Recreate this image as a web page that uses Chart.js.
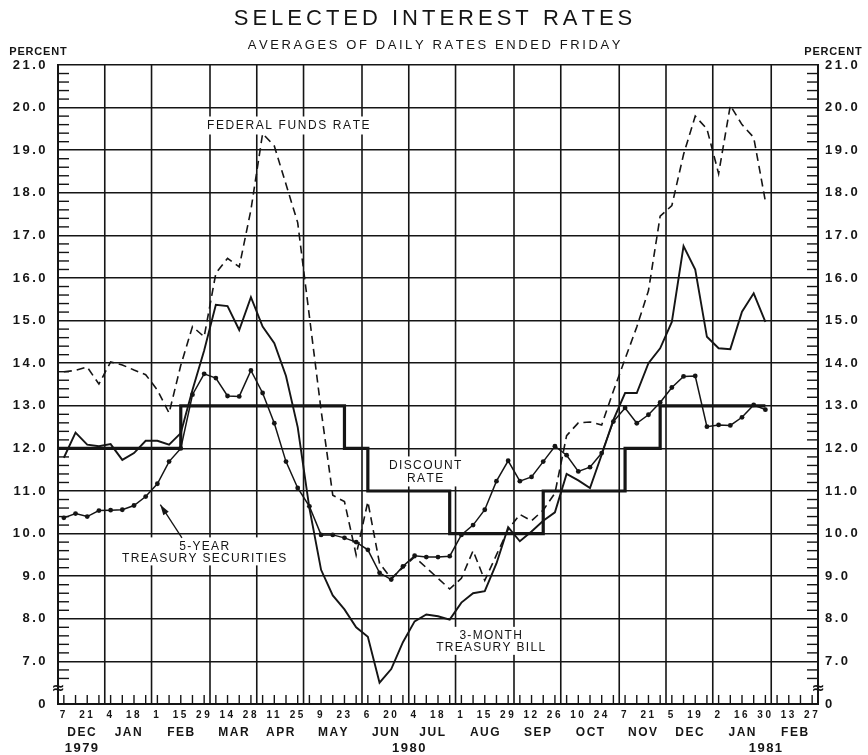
<!DOCTYPE html>
<html>
<head>
<meta charset="utf-8">
<script src="https://cdn.jsdelivr.net/npm/chart.js@4.4.0/dist/chart.umd.min.js"></script>
<style>
  html, body { margin: 0; padding: 0; background: #fff; }
</style>
</head>
<body>
<canvas id="rates" width="868" height="755"></canvas>
<script>
// week index 0 = Friday Dec 7, 1979 ... 64 = Friday Feb 27, 1981
const weekDays = [7,14,21,28, 4,11,18,25, 1,8,15,22,29, 7,14,21,28, 4,11,18,25, 2,9,16,23,30,
  6,13,20,27, 4,11,18,25, 1,8,15,22,29, 5,12,19,26, 3,10,17,24,31, 7,14,21,28, 5,12,19,26,
  2,9,16,23,30, 6,13,20,27];
const months = ['DEC','JAN','FEB','MAR','APR','MAY','JUN','JUL','AUG','SEP','OCT','NOV','DEC','JAN','FEB'];
const monthWeeks = [4,4,5,4,4,5,4,4,5,4,5,4,4,5,4];
const years = ['1979','1980','1981'];
const yearWeeks = [1.5, 29.5, 60];
const yTicks = [6,7,8,9,10,11,12,13,14,15,16,17,18,19,20,21];

// weekly averages, Dec 7 1979 .. Jan 30 1981
const fedFunds = [13.80,13.83,13.91,13.51,14.03,13.96,13.84,13.73,13.37,12.83,
  13.95,14.86,14.62,16.11,16.46,16.26,17.60,19.39,19.10,18.20,
  17.30,15.10,12.90,10.90,10.75,9.50,10.75,9.30,8.95,9.20,
  9.45,9.20,8.95,8.70,8.95,9.60,8.90,9.50,10.10,10.45,
  10.30,10.55,10.95,12.30,12.60,12.62,12.55,13.35,14.10,14.85,
  15.70,17.45,17.70,18.90,19.80,19.50,18.45,20.05,19.60,19.30,17.80];
const billRate3m = [11.78,12.37,12.09,12.05,12.10,11.73,11.89,12.18,12.18,12.09,
  12.36,13.37,14.30,15.37,15.34,14.78,15.55,14.86,14.47,13.70,
  12.50,10.60,9.15,8.55,8.22,7.80,7.58,6.50,6.82,7.45,
  7.94,8.10,8.06,7.98,8.38,8.60,8.65,9.30,10.15,9.82,
  10.05,10.30,10.50,11.40,11.25,11.07,11.85,12.67,13.30,13.30,
  14.00,14.35,14.97,16.75,16.20,14.62,14.35,14.33,15.21,15.64,14.97];
const treasury5y = [10.37,10.47,10.40,10.54,10.55,10.56,10.66,10.87,11.17,11.69,
  12.00,13.26,13.75,13.65,13.23,13.22,13.83,13.30,12.59,11.69,
  11.07,10.64,9.97,9.97,9.90,9.80,9.62,9.08,8.92,9.23,
  9.48,9.45,9.45,9.47,9.97,10.20,10.56,11.23,11.71,11.23,
  11.33,11.69,12.05,11.84,11.46,11.56,11.89,12.63,12.95,12.59,
  12.79,13.08,13.43,13.69,13.70,12.51,12.55,12.54,12.73,13.02,12.91];
const discountRate = [12,12,12,12,12,12,12,12,12,12,
  12,13,13,13,13,13,13,13,13,13,
  13,13,13,13,13,12,12,11,11,11,
  11,11,11,11,10,10,10,10,10,10,
  10,10,11,11,11,11,11,11,11,12,
  12,12,13,13,13,13,13,13,13,13,13];

const ink = '#151515';
const toPoints = arr => arr.map((v, i) => ({ x: i, y: v }));

function spaced(c, text, cx, cy, gap) {
  const chars = text.split('');
  const widths = chars.map(ch => c.measureText(ch).width);
  const total = widths.reduce((s, w) => s + w, 0) + gap * (chars.length - 1);
  let px = cx - total / 2;
  chars.forEach((ch, i) => { c.fillText(ch, px, cy); px += widths[i] + gap; });
  return total;
}

function note(c, lines, x, y, wk, val, font, gap, lineH) {
  c.font = font;
  const cx = x.getPixelForValue(wk), cy = y.getPixelForValue(val);
  let maxW = 0;
  lines.forEach(t => {
    const w = t.split('').reduce((s, ch) => s + c.measureText(ch).width, 0) + gap * (t.length - 1);
    maxW = Math.max(maxW, w);
  });
  c.fillStyle = '#fff';
  c.fillRect(cx - maxW / 2 - 4, cy - 9, maxW + 8, lineH * lines.length + 4);
  c.fillStyle = ink;
  lines.forEach((t, i) => spaced(c, t, cx, cy + i * lineH, gap));
}

const paper = {
  id: 'paper',
  beforeDraw(chart) {
    const c = chart.ctx;
    c.save();
    c.fillStyle = '#fff';
    c.fillRect(0, 0, chart.width, chart.height);
    c.restore();
    c.letterSpacing = '2.5px';
  },
  beforeDatasetsDraw(chart) {
    const { ctx: c, chartArea: a, scales: { x, y } } = chart;
    c.save();
    c.letterSpacing = '0px';
    c.strokeStyle = ink;
    c.lineWidth = 1.6;
    const seg = (x1, y1, x2, y2) => { c.beginPath(); c.moveTo(x1, y1); c.lineTo(x2, y2); c.stroke(); };

    // month boundaries
    let edge = -0.5;
    monthWeeks.forEach((n, i) => {
      edge += n;
      if (i < monthWeeks.length - 1) {
        const px = x.getPixelForValue(edge);
        seg(px, a.top, px, a.bottom);
      }
    });
    // weekly ticks
    c.lineWidth = 1.4;
    weekDays.forEach((d, i) => {
      const px = x.getPixelForValue(i);
      seg(px, a.bottom, px, a.bottom - 9);
    });
    // minor percent ticks
    for (let k = 33; k <= 105; k++) {
      if (k % 5 === 0) continue;
      const py = y.getPixelForValue(k / 5);
      seg(a.left, py, a.left + 11, py);
      seg(a.right - 11, py, a.right, py);
    }

    // series labels
    c.textAlign = 'left';
    c.textBaseline = 'middle';
    note(c, ['FEDERAL FUNDS RATE'], x, y, 19.2, 19.58, '12px "Liberation Sans", Arial, sans-serif', 1.6, 14);
    note(c, ['DISCOUNT', 'RATE'], x, y, 30.9, 11.6, '12px "Liberation Sans", Arial, sans-serif', 1.4, 13);
    note(c, ['5-YEAR', 'TREASURY SECURITIES'], x, y, 12.0, 9.7, '12px "Liberation Sans", Arial, sans-serif', 1.3, 12);
    note(c, ['3-MONTH', 'TREASURY BILL'], x, y, 36.5, 7.6, '12px "Liberation Sans", Arial, sans-serif', 1.3, 12);

    // arrow to 5-year curve
    const ax1 = x.getPixelForValue(10.1), ay1 = y.getPixelForValue(9.9);
    const ax2 = x.getPixelForValue(8.25), ay2 = y.getPixelForValue(10.68);
    c.lineWidth = 1.3;
    seg(ax1, ay1, ax2, ay2);
    const ang = Math.atan2(ay2 - ay1, ax2 - ax1);
    c.fillStyle = ink;
    c.beginPath();
    c.moveTo(ax2, ay2);
    c.lineTo(ax2 - 11 * Math.cos(ang - 0.3), ay2 - 11 * Math.sin(ang - 0.3));
    c.lineTo(ax2 - 11 * Math.cos(ang + 0.3), ay2 - 11 * Math.sin(ang + 0.3));
    c.closePath();
    c.fill();
    c.restore();
  },
  afterDraw(chart) {
    const { ctx: c, chartArea: a, scales: { x, y } } = chart;
    c.save();
    c.letterSpacing = '0px';
    c.fillStyle = ink;
    c.textBaseline = 'middle';
    c.textAlign = 'left';

    c.font = '22px "Liberation Sans", Arial, sans-serif';
    spaced(c, 'SELECTED INTEREST RATES', 433, 19, 4.0);
    c.font = '13px "Liberation Sans", Arial, sans-serif';
    spaced(c, 'AVERAGES OF DAILY RATES ENDED FRIDAY', 434, 45, 2.6);

    c.font = 'bold 11px "Liberation Sans", Arial, sans-serif';
    spaced(c, 'PERCENT', 38, 52, 0.8);
    spaced(c, 'PERCENT', 833, 52, 0.8);

    // month and year captions
    c.font = 'bold 12px "Liberation Sans", Arial, sans-serif';
    let start = -0.5;
    months.forEach((m, i) => {
      const mid = start + monthWeeks[i] / 2;
      spaced(c, m, x.getPixelForValue(mid), a.bottom + 29, 1.5);
      start += monthWeeks[i];
    });
    c.font = 'bold 13px "Liberation Sans", Arial, sans-serif';
    years.forEach((t, i) => spaced(c, t, x.getPixelForValue(yearWeeks[i]), a.bottom + 44, 1.5));

    // scale break marks
    const by = y.getPixelForValue(6.35);
    c.font = 'bold 16px "DejaVu Sans", sans-serif';
    c.textAlign = 'center';
    c.fillText('\u2248', a.left, by);
    c.fillText('\u2248', a.right, by);
    c.restore();
  }
};

const tickFont = { family: '"Liberation Sans", Arial, sans-serif', size: 13, weight: 'bold' };

new Chart(document.getElementById('rates'), {
  type: 'line',
  data: {
    datasets: [
      { label: 'Federal funds rate', data: toPoints(fedFunds), borderColor: ink, borderWidth: 1.6,
        borderDash: [8, 5], pointRadius: 0, tension: 0 },
      { label: '3-month Treasury bill', data: toPoints(billRate3m), borderColor: ink, borderWidth: 1.9,
        pointRadius: 0, tension: 0 },
      { label: '5-year Treasury securities', data: toPoints(treasury5y), borderColor: ink, borderWidth: 1.5,
        pointRadius: 2.4, pointBackgroundColor: ink, pointBorderWidth: 0, tension: 0 },
      { label: 'Discount rate', data: [{ x: -0.5, y: discountRate[0] }].concat(toPoints(discountRate)),
        borderColor: ink, borderWidth: 3.2, stepped: 'after', pointRadius: 0 }
    ]
  },
  options: {
    responsive: false,
    animation: false,
    layout: { padding: { top: 65 } },
    plugins: { legend: { display: false }, tooltip: { enabled: false } },
    scales: {
      x: {
        type: 'linear', min: -0.5, max: 64.5,
        afterBuildTicks: s => { s.ticks = weekDays.map((d, i) => ({ value: i })); },
        afterFit: s => { s.height = 51; },
        ticks: {
          autoSkip: false, maxRotation: 0, padding: 5, color: ink,
          font: { family: '"Liberation Sans", Arial, sans-serif', size: 10, weight: 'bold' },
          callback: v => (v % 2 === 0 ? String(weekDays[v]) : '')
        },
        grid: { display: false, drawTicks: false },
        border: { display: true, color: ink, width: 2 }
      },
      y: {
        min: 6, max: 21,
        afterBuildTicks: s => { s.ticks = yTicks.map(v => ({ value: v })); },
        afterFit: s => { s.width = 58; },
        ticks: { padding: 10, color: ink, font: tickFont, callback: v => (v === 6 ? '0' : v.toFixed(1)) },
        grid: { color: ink, lineWidth: 1.6, drawTicks: false },
        border: { color: ink, width: 2 }
      },
      y2: {
        position: 'right', min: 6, max: 21,
        afterBuildTicks: s => { s.ticks = yTicks.map(v => ({ value: v })); },
        afterFit: s => { s.width = 50; },
        ticks: { padding: 7, color: ink, font: tickFont, callback: v => (v === 6 ? '0' : v.toFixed(1)) },
        grid: { display: false, drawTicks: false },
        border: { color: ink, width: 2 }
      }
    }
  },
  plugins: [paper]
});
</script>
</body>
</html>
